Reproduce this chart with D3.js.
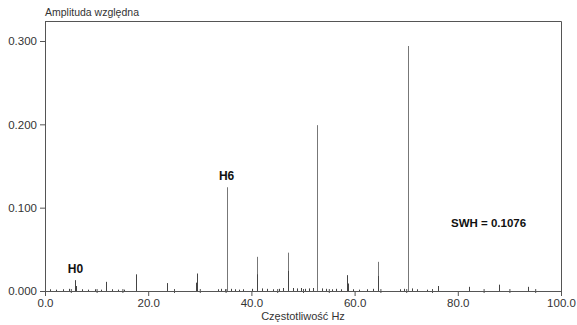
<!DOCTYPE html>
<html>
<head>
<meta charset="utf-8">
<script src="https://cdn.jsdelivr.net/npm/d3@7"></script>
<style>
  body { margin: 0; background: #fff; }
  text { font-family: "Liberation Sans", Arial, sans-serif; }
</style>
</head>
<body>
<svg id="chart" width="577" height="325"></svg>
<script>
// spectral lines: frequency (Hz) and relative amplitude
let peakFreq = [5.9, 6.0, 11.9, 17.7, 23.6, 29.3, 29.4, 35.2, 41.0, 41.1, 47.0, 47.1, 52.8, 58.6, 58.8, 64.5, 64.6, 70.4, 76.2, 82.2, 87.9, 93.7];
let peakAmp  = [0.013, 0.006, 0.011, 0.020, 0.0095, 0.010, 0.021, 0.1245, 0.041, 0.020, 0.046, 0.024, 0.199, 0.019, 0.009, 0.035, 0.018, 0.294, 0.006, 0.005, 0.0076, 0.005];
// low-level background lines
let noiseFreq = [1.0, 2.2, 3.4, 4.6, 7.2, 8.4, 9.6, 10.8, 13.0, 14.2, 15.4, 33.6, 34.2, 34.8, 36.0, 36.8, 37.6, 38.4, 40.2, 42.0, 43.0, 44.2, 45.4, 46.2, 48.0, 48.8, 49.6, 50.4, 51.2, 52.0, 53.6, 54.4, 55.6, 56.4, 57.4, 59.6, 60.8, 62.4, 63.6, 68.8, 69.6, 71.2, 72.0, 74.0];
let noiseAmp  = [0.0015, 0.001, 0.0015, 0.002, 0.0015, 0.001, 0.0015, 0.001, 0.0015, 0.001, 0.001, 0.0015, 0.002, 0.0015, 0.002, 0.0015, 0.001, 0.0015, 0.002, 0.0025, 0.002, 0.0015, 0.002, 0.003, 0.003, 0.0025, 0.003, 0.002, 0.0025, 0.003, 0.0025, 0.002, 0.0015, 0.002, 0.0015, 0.0015, 0.001, 0.0015, 0.002, 0.0015, 0.002, 0.0025, 0.0015, 0.001];
let xTicks = [0, 20, 40, 60, 80, 100];
let xMinor = [5, 10, 15, 25, 30, 35, 45, 50, 55, 65, 70, 75, 85, 90, 95];
let yTicks = [0, 0.1, 0.2, 0.3];
let labels = [{text: 'H0', f: 5.9, a: 0.013}, {text: 'H6', f: 35.2, a: 0.1245}];
let swh = 'SWH = 0.1076';

let svg = d3.select('#chart');
let plotLeft = 45, plotRight = 561, plotTop = 21, plotBottom = 291;
let x = d3.scaleLinear().domain([0, 100]).range([plotLeft, plotRight]);
let y = d3.scaleLinear().domain([0, 0.3]).range([plotBottom, 41]);
let axisColor = '#555';
let textColor = '#333';
let narrow = '"Liberation Sans Narrow", "Liberation Sans", Arial, sans-serif';

// frame: top and right edges
svg.append('path')
   .attr('d', `M${plotLeft},${plotTop + 0.5}H${plotRight + 0.5}V${plotBottom}`)
   .attr('fill', 'none')
   .attr('stroke', axisColor);

let noise = noiseFreq.map((f, i) => ({f: f, a: noiseAmp[i]}));
svg.append('g').selectAll('line')
   .data(noise)
   .enter()
   .append('line')
   .attr('x1', d => Math.round(x(d.f)) + 0.5).attr('x2', d => Math.round(x(d.f)) + 0.5)
   .attr('y1', y(0)).attr('y2', d => y(d.a) - 0.5)
   .attr('stroke', '#444');

let peaks = peakFreq.map((f, i) => ({f: f, a: peakAmp[i]}));
svg.append('g').selectAll('line')
   .data(peaks)
   .enter()
   .append('line')
   .attr('x1', d => Math.round(x(d.f)) + 0.5).attr('x2', d => Math.round(x(d.f)) + 0.5)
   .attr('y1', y(0)).attr('y2', d => y(d.a))
   .attr('stroke', d => d.a > 0.03 ? '#777' : '#444')
   .attr('stroke-width', 1);

// x axis
svg.append('g')
   .attr('transform', `translate(0,${plotBottom})`)
   .call(d3.axisBottom(x).tickValues(xTicks).tickFormat(d3.format('.1f')).tickSize(5).tickPadding(3));
svg.append('g')
   .attr('transform', `translate(0,${plotBottom - 2})`)
   .call(d3.axisBottom(x).tickValues(xMinor).tickFormat('').tickSize(4))
   .call(g => g.select('.domain').remove());

// y axis
svg.append('g')
   .attr('transform', `translate(${plotLeft},0)`)
   .call(d3.axisLeft(y).tickValues(yTicks).tickFormat(d3.format('.3f')).tickSize(5).tickPadding(3));

svg.selectAll('.domain').attr('stroke', axisColor);
svg.selectAll('.tick line').attr('stroke', axisColor);
svg.selectAll('.tick text').attr('fill', textColor).style('font-size', '11.5px')
   .style('font-family', narrow);

// left edge up to the frame top
svg.append('line')
   .attr('x1', plotLeft + 0.5).attr('x2', plotLeft + 0.5)
   .attr('y1', plotTop).attr('y2', plotBottom)
   .attr('stroke', axisColor);

// titles
svg.append('text')
   .attr('x', plotLeft).attr('y', 16)
   .attr('fill', textColor).style('font-size', '10.5px')
   .text('Amplituda względna');
svg.append('text')
   .attr('x', x(50)).attr('y', 320)
   .attr('text-anchor', 'middle')
   .attr('fill', textColor).style('font-size', '11px')
   .text('Częstotliwość Hz');

// harmonic labels
svg.selectAll('.hlabel')
   .data(labels)
   .enter()
   .append('text')
   .attr('class', 'hlabel')
   .attr('x', d => x(d.f))
   .attr('y', d => y(d.a) - 7)
   .attr('text-anchor', 'middle')
   .attr('fill', '#111')
   .style('font-size', '12px')
   .style('font-weight', 'bold')
   .text(d => d.text);

svg.append('text')
   .attr('x', 451).attr('y', 227)
   .attr('fill', '#111')
   .style('font-size', '11.5px')
   .style('font-weight', 'bold')
   .text(swh);
</script>
</body>
</html>
